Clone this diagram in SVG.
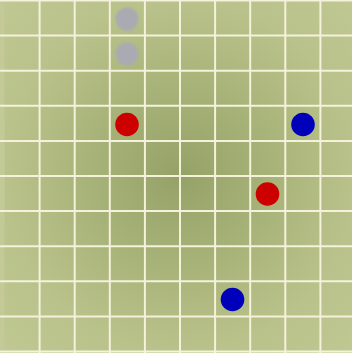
<svg xmlns="http://www.w3.org/2000/svg" width="352" height="353" viewBox="0 0 352 353">
<defs>
<radialGradient id="bg" gradientUnits="userSpaceOnUse" cx="180" cy="176" r="250">
<stop offset="0" stop-color="#95a267"/>
<stop offset="0.7" stop-color="#b9c28a"/>
<stop offset="1" stop-color="#c0c893"/>
</radialGradient>
<filter id="soft" x="-30%" y="-30%" width="160%" height="160%"><feGaussianBlur stdDeviation="1"/></filter>
<style>
.g{stroke:#f4f2da;stroke-width:2;fill:none}
.gray{fill:#aaaab2;filter:url(#soft)}
.red{fill:#cc0000}
.blue{fill:#0000bb}
</style>
</defs>
<rect width="352" height="353" fill="url(#bg)"/>
<rect x="0" y="0" width="4.5" height="353" fill="#c3ca98"/>
<g id="grid">
<path class="g" d="M39.6 0V353M74.7 0V353M109.8 0V353M144.9 0V353M180 0V353M215.1 0V353M250.2 0V353M285.3 0V353M320.4 0V353"/>
<path class="g" d="M0 0.5H352M0 35.6H352M0 70.7H352M0 105.8H352M0 140.9H352M0 176H352M0 211.1H352M0 246.2H352M0 281.3H352M0 316.4H352M0 351.5H352"/>
</g>
<g id="stone-gray-1"><circle class="gray" cx="127" cy="19" r="11.5"/></g>
<g id="stone-gray-2"><circle class="gray" cx="127" cy="54" r="11.5"/></g>
<g id="stone-red-1"><circle class="red" cx="127" cy="124.5" r="11.8"/></g>
<g id="stone-blue-1"><circle class="blue" cx="303" cy="124.5" r="11.8"/></g>
<g id="stone-red-2"><circle class="red" cx="267.5" cy="194" r="11.8"/></g>
<g id="stone-blue-2"><circle class="blue" cx="232.5" cy="299.5" r="11.8"/></g>
</svg>
